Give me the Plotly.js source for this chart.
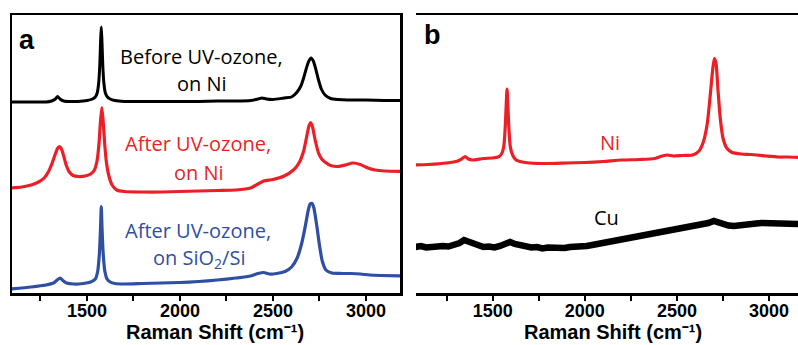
<!DOCTYPE html>
<html>
<head>
<meta charset="utf-8">
<script src="https://cdn.plot.ly/plotly-3.0.1.min.js"></script>
<style>html,body{margin:0;padding:0;background:#fff;}#chart{width:798px;height:345px;}</style>
</head>
<body>
<div id="chart"></div>
<script>
// Panel a: Before UV-ozone, on Ni (black)
const beforeNiX = [1090,1200,1280,1310,1330,1342,1355,1375,1420,1480,1500,1530,1545,1555,1563,1569,1574,1577,1580,1585,1591,1599,1610,1625,1650,1700,1800,1900,2000,2100,2200,2300,2380,2420,2441,2465,2500,2560,2600,2630,2650,2665,2680,2693,2705,2717,2730,2745,2760,2780,2810,2850,2900,3000,3100,3190];
const beforeNiY = [191,191,191,192,194,196.5,194,192,191.5,192,192.5,194,196,200,210,228,255,266,255,228,210,200,196,194,192.5,191.5,191.5,191.5,191.5,191.5,192,192,192.5,194,195,194,193.5,195,196,201,207,215,225,232,235,232,224,213,204,198,194.5,193.5,193,193,192.5,192.5];

// Panel a: After UV-ozone, on Ni (red)
const afterNiX = [1090,1150,1200,1240,1270,1295,1315,1330,1343,1353,1363,1375,1390,1405,1425,1455,1490,1520,1540,1555,1565,1573,1580,1587,1595,1605,1618,1635,1660,1700,1800,1900,2000,2100,2200,2300,2380,2420,2450,2500,2560,2610,2640,2665,2683,2695,2703,2713,2728,2745,2762,2779,2810,2850,2890,2930,2970,3010,3050,3100,3190];
const afterNiY = [105,106,108,111,115,122,131,139,145,146.5,144,137,127,121,117.5,116.5,117,119,123,133,150,172,185.5,172,150,130,117,108,103,101.5,101,101,101.5,102,102.5,103,105,109,112,113.5,117,123,130,142,158,168,170.5,166,152,140,134,131,127.5,126.5,128,130,128.5,125,123,122,121.5];

// Panel a: After UV-ozone, on SiO2/Si (blue)
const afterSiX = [1090,1200,1280,1320,1340,1356,1370,1390,1430,1480,1520,1545,1558,1567,1573,1577,1581,1587,1596,1608,1625,1650,1700,1800,1900,2000,2100,2200,2300,2380,2420,2450,2480,2520,2565,2600,2630,2655,2675,2690,2700,2710,2720,2735,2750,2765,2785,2817,2870,2920,2970,3020,3080,3190];
const afterSiY = [4,6,8,10,13,15,12.5,10,9,9.5,11,14,22,40,65,86.5,65,40,22,14,11,9.5,9,9.5,10,10.5,11.5,13,15,17,19.5,20.5,19,19.5,21.5,26,35,50,68,83,89,89.5,85,68,48,32,23,20,19.5,19.5,19,18,17.5,17];

// Panel b: Ni (red)
const niX = [1080,1150,1250,1310,1335,1351,1368,1390,1450,1500,1530,1548,1560,1568,1574,1578,1582,1588,1596,1608,1627,1660,1700,1800,1900,2000,2100,2200,2300,2380,2420,2450,2480,2530,2586,2620,2645,2665,2682,2695,2703,2712,2722,2735,2750,2770,2800,2850,2900,2984,3050,3100,3160];
const niY = [128,128.5,130,132,134.5,136.5,134,133,134.5,135,136,139,146,165,190,204,190,165,146,138,133,131,130,129.5,130,130.5,131.5,133,133.5,134.5,137,138,137,137.5,138,142,152,170,200,225,234.5,230,205,175,155,145,140.5,139,138.5,137,136,136,135.7];

// Panel b: Cu (black, noisy)
const cuX = [1080,1110,1140,1170,1200,1230,1260,1290,1320,1345,1365,1390,1420,1450,1480,1510,1540,1570,1595,1620,1650,1680,1710,1740,1770,1800,1830,1860,1890,1920,1950,1980,2010,2040,2070,2100,2130,2160,2190,2220,2250,2280,2310,2340,2370,2400,2430,2460,2490,2520,2550,2580,2610,2640,2670,2700,2720,2750,2780,2810,2840,2870,2900,2930,2960,2990,3020,3050,3080,3110,3140,3160];
const cuY = [46,47,45.5,46.5,46,47,46.5,48,50,53,51.5,49,47.5,46,46.5,45.5,47,48.5,51,49,47.5,46.5,45.5,46,44.5,45.5,45,46,45,46,46,47,47,48,49,50.5,52,52.5,53.5,54,55,55.5,56.5,57.5,58.5,59.5,61,61.5,63,64,65.5,66.5,67.5,69,70,72,70.5,69,67.5,67,68,68.5,69,69.5,70,70,70.5,70,70.5,70,69.5,69];

const xTickVals = [1500, 2000, 2500, 3000];
const xTitle = 'Raman Shift (cm\u207B\u00B9)';

const RED = '#ec1f26', BLUE = '#2f4fa3', BLACK = '#000000';

const traces = [
  {x: beforeNiX, y: beforeNiY, xaxis: 'x', yaxis: 'y', mode: 'lines', line: {color: BLACK, width: 3, shape: 'spline', smoothing: 0.6}},
  {x: afterNiX, y: afterNiY, xaxis: 'x', yaxis: 'y', mode: 'lines', line: {color: RED, width: 3.2, shape: 'spline', smoothing: 0.6}},
  {x: afterSiX, y: afterSiY, xaxis: 'x', yaxis: 'y', mode: 'lines', line: {color: BLUE, width: 3.2, shape: 'spline', smoothing: 0.6}},
  {x: niX, y: niY, xaxis: 'x2', yaxis: 'y2', mode: 'lines', line: {color: RED, width: 3.2, shape: 'spline', smoothing: 0.6}},
  {x: cuX, y: cuY, xaxis: 'x2', yaxis: 'y2', mode: 'lines', line: {color: BLACK, width: 6.5}}
];

const tickFont = {family: 'Liberation Sans, Arial, sans-serif', size: 18, color: '#000', weight: 'bold'};
const titleFont = {family: 'Liberation Sans, Arial, sans-serif', size: 20, color: '#000', weight: 'bold'};
function xAxis(domain, range) {
  return {
    domain: domain, range: range, showline: true, linecolor: '#000', linewidth: 2.5, mirror: true,
    ticks: 'outside', ticklen: 5, tickwidth: 2, tickcolor: '#000', tickvals: xTickVals,
    minor: {ticks: 'outside', ticklen: 5, tickwidth: 2, tickcolor: '#000', dtick: 250, tick0: 1250, showgrid: false},
    showgrid: false, zeroline: false, tickfont: tickFont, ticklabelstandoff: -5
  };
}

const annFont = (c) => ({family: 'Open Sans, Noto Sans, sans-serif', size: 20, color: c});
const ann = (xref, yref, x, y, text, color) => ({xref: xref, yref: yref, x: x, y: y, text: text, showarrow: false, font: annFont(color), xanchor: 'center', yanchor: 'middle'});
const bigLabel = (px, py, text) => ({xref: 'paper', yref: 'paper', x: px / 798, y: 1 - py / 345, text: text, showarrow: false, xanchor: 'center', yanchor: 'middle', font: {family: 'Liberation Sans, Arial, sans-serif', size: 27, color: '#000', weight: 'bold'}});
const axTitle = (px) => ({xref: 'paper', yref: 'paper', x: px / 798, y: 0, text: xTitle, showarrow: false, xanchor: 'center', yanchor: 'bottom', font: titleFont});

const layout = {
  width: 798, height: 345,
  margin: {l: 0, r: 0, t: 0, b: 0},
  paper_bgcolor: '#fff', plot_bgcolor: '#fff',
  showlegend: false,
  xaxis: xAxis([12/798, 400/798], [1097, 3183]),
  yaxis: {domain: [52/345, 330/345], range: [0, 278], showline: true, linecolor: '#000', linewidth: 2.5, mirror: true, showticklabels: false, ticks: '', showgrid: false, zeroline: false},
  xaxis2: xAxis([416/798, 1], [1084, 3157]),
  yaxis2: {domain: [52/345, 332/345], range: [0, 280], showline: true, linecolor: '#000', linewidth: 2.5, mirror: false, showticklabels: false, ticks: '', showgrid: false, zeroline: false},
  annotations: [
    ann('x', 'y', 2117, 236, 'Before UV-ozone,', BLACK),
    ann('x', 'y', 2117, 209, 'on Ni', BLACK),
    ann('x', 'y', 2096, 150, 'After UV-ozone,', RED),
    ann('x', 'y', 2105, 121, 'on Ni', RED),
    ann('x', 'y', 2096, 63, 'After UV-ozone,', BLUE),
    ann('x', 'y', 2102, 35, 'on SiO<sub>2</sub>/Si', BLUE),
    ann('x2', 'y2', 2137, 151, 'Ni', RED),
    ann('x2', 'y2', 2119, 76, 'Cu', BLACK),
    bigLabel(27, 40, 'a'),
    bigLabel(432, 35, 'b'),
    axTitle(215),
    axTitle(613)
  ]
};

Plotly.newPlot('chart', traces, layout, {displayModeBar: false, staticPlot: true});
</script>
</body>
</html>
